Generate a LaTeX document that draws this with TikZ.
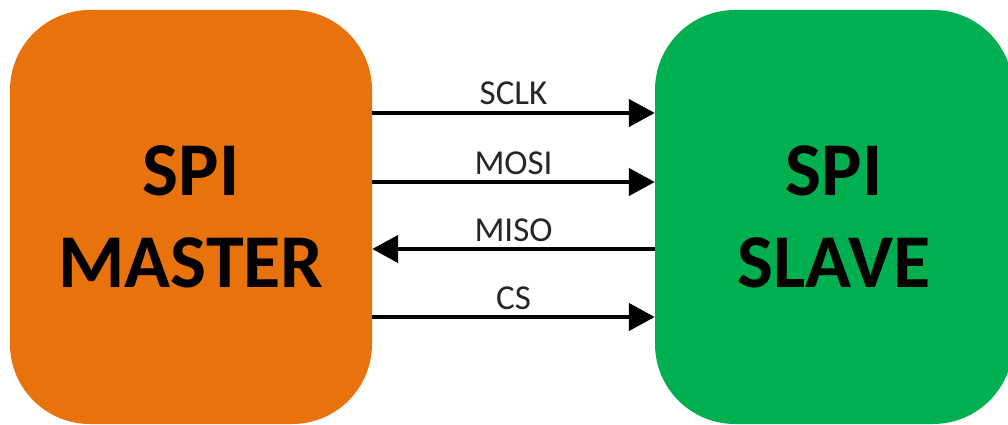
\documentclass[tikz,border=0pt]{standalone}
\usepackage{fontspec}
\setmainfont{Carlito}
\usetikzlibrary{arrows.meta}
\definecolor{masterorange}{RGB}{232,114,12}
\definecolor{slavegreen}{RGB}{0,176,80}
\tikzset{
  block/.style={rounded corners=80pt, minimum height=414pt, inner sep=0pt, align=center,
    font=\bfseries\fontsize{76}{92}\selectfont, text=black},
  sig/.style={line width=4.5pt, -{Triangle[length=26pt,width=27pt]}},
  siglabel/.style={anchor=base, font=\fontsize{35}{40}\selectfont, inner sep=0pt, text=black!85}
}
\begin{document}
\begin{tikzpicture}[x=1pt,y=-1pt]
\useasboundingbox (0,0) rectangle (1008,425);
\node[block, fill=masterorange, minimum width=362pt] (master) at (191,217) {SPI\\MASTER};
\node[block, fill=slavegreen, minimum width=358pt] (slave) at (834,217) {SPI\\SLAVE};
\draw[sig] (master.east |- 0,113) -- (slave.west |- 0,113) node[siglabel, pos=0.5, yshift=8pt] (l1) {SCLK};
\draw[sig] (master.east |- 0,182) -- (slave.west |- 0,182) node[siglabel, pos=0.5, yshift=8pt] (l2) {MOSI};
\draw[sig] (slave.west |- 0,249) -- (master.east |- 0,249) node[siglabel, pos=0.5, yshift=8pt] (l3) {MISO};
\draw[sig] (master.east |- 0,317) -- (slave.west |- 0,317) node[siglabel, pos=0.5, yshift=8pt] (l4) {CS};
\end{tikzpicture}
\end{document}
